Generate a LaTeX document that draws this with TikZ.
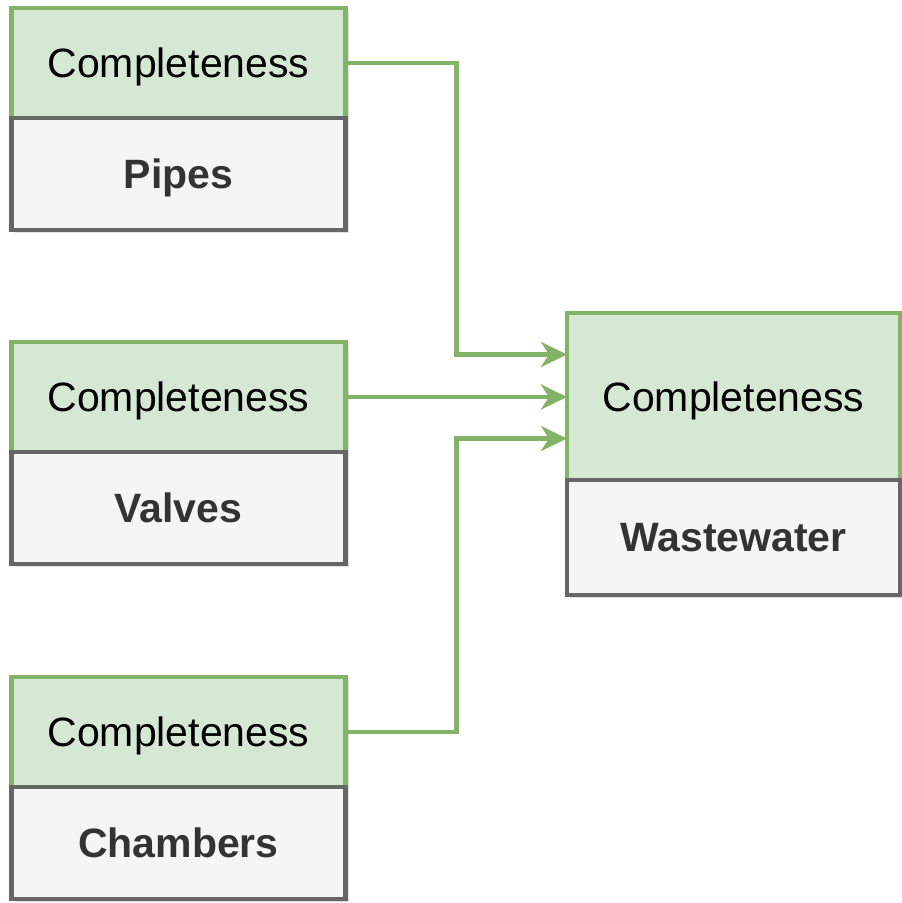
\documentclass[tikz,border=0pt]{standalone}
\usepackage{fontspec}
\setmainfont{Liberation Sans}
\usetikzlibrary{arrows.meta, shadows, positioning, calc}
\definecolor{qualgreen}{HTML}{D5E8D4}
\definecolor{qualline}{HTML}{82B366}
\definecolor{assetgray}{HTML}{F5F5F5}
\definecolor{assetline}{HTML}{666666}
\definecolor{assettext}{HTML}{333333}

\begin{document}
\begin{tikzpicture}[x=1pt, y=-1pt, line join=miter,
    qualbox/.style={draw=qualline, fill=qualgreen, line width=4.5pt, minimum width=334pt, minimum height=110pt, inner sep=0pt, outer sep=0pt, text depth=0pt, anchor=north west, font=\fontsize{41}{48}\selectfont, drop shadow={shadow xshift=3pt, shadow yshift=-3pt, opacity=0.12, fill=black}},
    assetbox/.style={draw=assetline, fill=assetgray, line width=4.5pt, minimum width=334pt, minimum height=112pt, inner sep=0pt, outer sep=0pt, text depth=0pt, text=assettext, font=\fontsize{41}{48}\selectfont\bfseries, drop shadow={shadow xshift=3pt, shadow yshift=-3pt, opacity=0.12, fill=black}},
    link/.style={draw=qualline, line width=4.5pt, -{Stealth[length=26pt, width=25pt, inset=8pt]}}]
  \useasboundingbox (0,0) rectangle (902,903);

  % Pipes
  \node[qualbox] (pipesQual) at (11.5,8) {Completeness};
  \node[assetbox, below=0pt of pipesQual] (pipes) {Pipes};

  % Valves
  \node[qualbox] (valvesQual) at (11.5,342) {Completeness};
  \node[assetbox, below=0pt of valvesQual] (valves) {Valves};

  % Chambers
  \node[qualbox] (chambersQual) at (11.5,677) {Completeness};
  \node[assetbox, below=0pt of chambersQual] (chambers) {Chambers};

  % Wastewater
  \node[qualbox, minimum width=333pt, minimum height=167pt] (wasteQual) at (567,313) {Completeness};
  \node[assetbox, minimum width=333pt, minimum height=115pt, below=0pt of wasteQual] (waste) {Wastewater};

  % links
  \draw[link] (pipesQual.east) -| ($(pipesQual.east)!0.5!(wasteQual.west)$) |- ([yshift=42pt]wasteQual.west);
  \draw[link] (valvesQual.east) -- (valvesQual.east -| wasteQual.west);
  \draw[link] (chambersQual.east) -| ($(chambersQual.east)!0.5!(wasteQual.west)$) |- ([yshift=-42pt]wasteQual.west);
\end{tikzpicture}
\end{document}
